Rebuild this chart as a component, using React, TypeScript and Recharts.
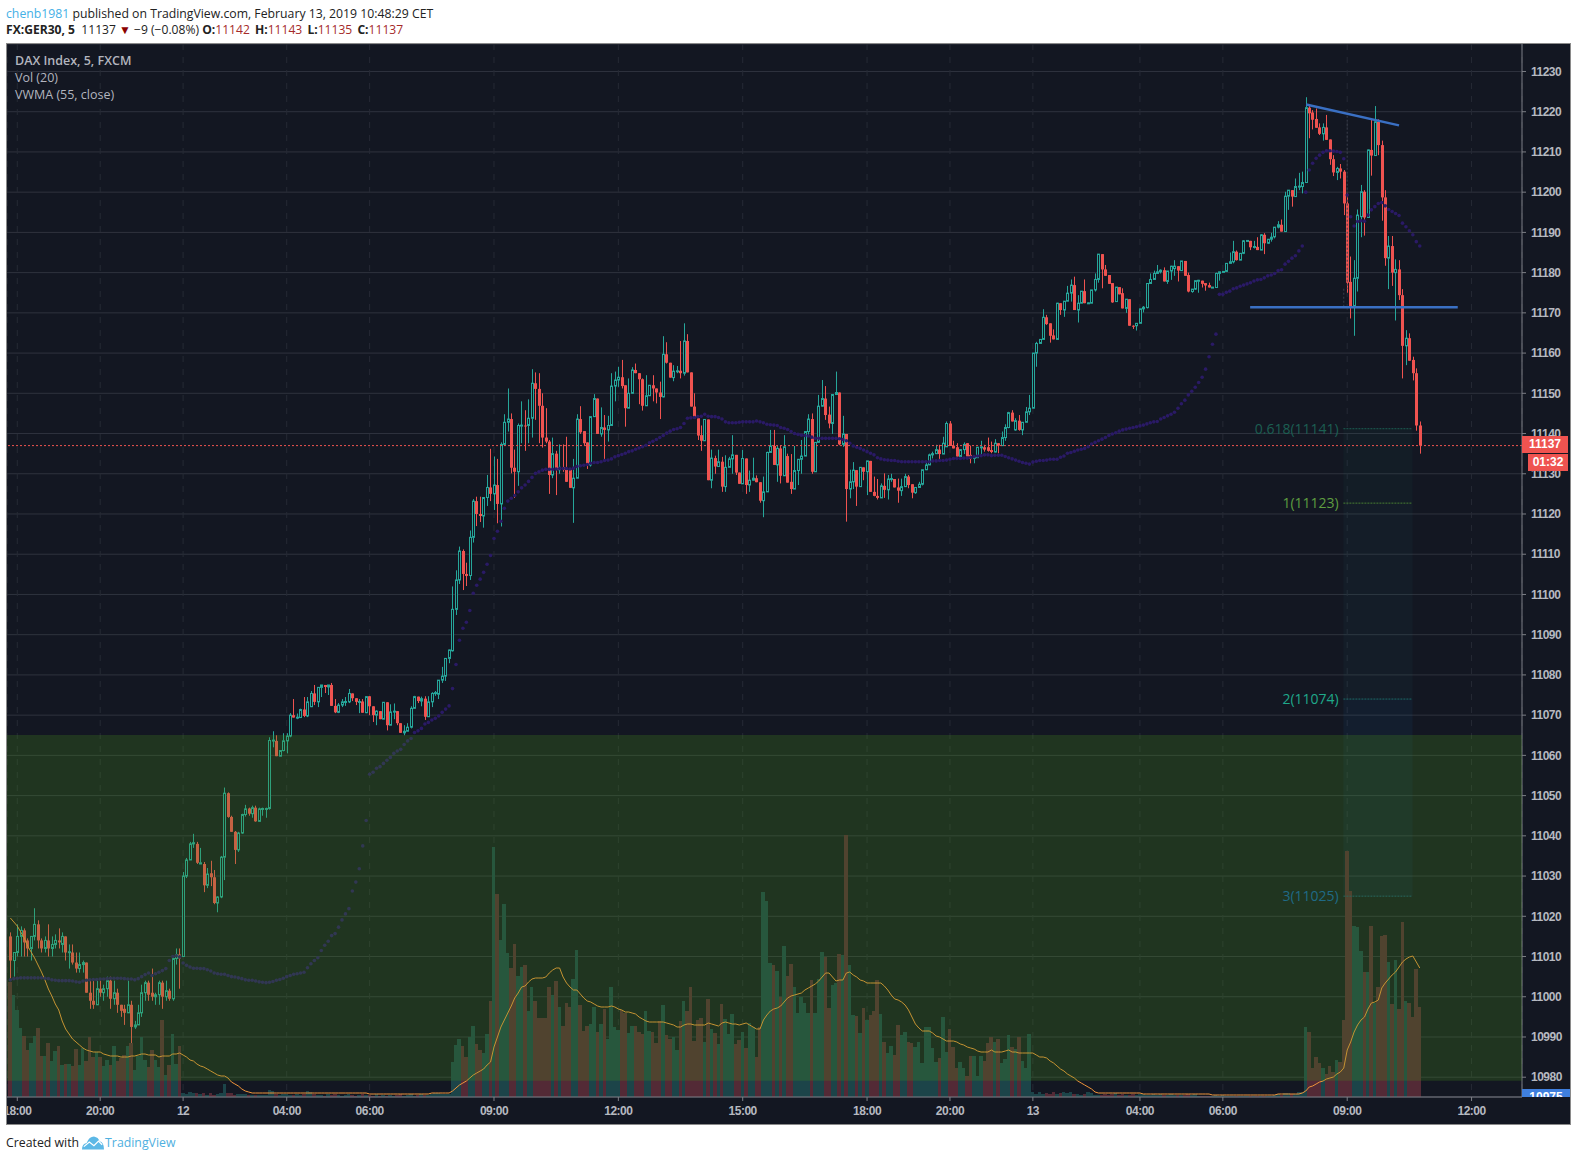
import {
  Bar,
  CartesianGrid,
  ComposedChart,
  Line,
  ReferenceArea,
  ReferenceDot,
  ReferenceLine,
  XAxis,
  YAxis,
} from "recharts";

// 5 minute bars
const opens = [
  11015,11009,11011,11015,11016.5,11014,11012,11015,11018,11014,
  11012,11014,11012,11013,11014,11013,11015,11011,11011,11008.5,
  11007,11008,11008.5,11001,10999,10998,11002,11001,11002,11004,
  10999.5,11001,10998,10997,10996,10998,10992.5,10993,10996,11001,
  11003.5,11001,11000,11000.5,11003.5,11000,11001.5,10999.5,11009.5,11010.5,
  11010,11030,11034,11038,11038,11033,11033,11027.7,11030.7,11029.7,
  11023.3,11024.8,11034.7,11050.6,11044.7,11041,11036.5,11040.7,11045.3,11046.8,
  11045.5,11047,11043.6,11046.7,11046.8,11046.8,11063.6,11063.6,11059.8,11061.2,
  11063.6,11064.8,11070,11069.4,11069.4,11071.4,11069.8,11072.1,11075.4,11073.3,
  11076.9,11077.5,11077,11077.5,11072.3,11070.7,11072.5,11073.3,11073.3,11075.4,
  11074.2,11073.3,11073.4,11070.6,11074.7,11072.2,11070,11071,11069,11073.2,
  11067.5,11070.8,11071,11068,11065.6,11066,11067,11071.7,11074.6,11073.5,
  11074.1,11069.6,11073.3,11075.4,11075.2,11078.7,11079.7,11084.1,11086,11096.3,
  11103.6,11110.8,11105.1,11104.7,11114.2,11123.2,11120,11119.5,11124.1,11126.6,
  11125,11127.2,11122.5,11137.3,11142.8,11143.6,11131.5,11130.5,11142,11142,
  11142,11143.8,11152.5,11151.1,11146.9,11139,11138,11129.7,11135,11131,
  11131.6,11131,11131,11126.5,11128.9,11143.6,11140.6,11137.8,11132.2,11144.2,
  11148.7,11139.9,11141.5,11140.9,11142,11151.8,11153.3,11154,11152,11146.3,
  11150,11155.8,11155,11153.5,11146.9,11149.4,11152,11151.2,11150.2,11149.1,
  11159.7,11157.6,11153.9,11155.5,11155.6,11155,11163,11155.2,11146.7,11143.8,
  11139.6,11138.2,11143.5,11128.4,11133.9,11131.8,11133,11126.8,11131.6,11133.7,
  11134.7,11130.3,11127.5,11133.8,11127.2,11128.4,11128.9,11127.9,11123.3,11125.5,
  11135.3,11136.9,11132.2,11136.3,11129.5,11134.4,11128,11126.2,11130.8,11133.6,
  11134.4,11140.5,11143.6,11130.5,11137.8,11146.8,11148.7,11144.7,11142.5,11149.7,
  11150.2,11137.3,11139.9,11126.2,11128,11130.9,11126.8,11131.6,11130.5,11133.2,
  11125.5,11124.5,11124,11127,11126,11128.7,11128.7,11126.6,11125.8,11126.8,
  11129.3,11127.4,11125.3,11126.6,11127.4,11131,11132.2,11134.7,11135,11136,
  11134.9,11136.7,11142.5,11137,11136.6,11134.3,11136,11137.6,11134.7,11134,
  11134,11136.6,11136.6,11136.6,11135.9,11135.4,11137.6,11137,11139,11141.5,
  11145.2,11140.9,11143.2,11140.9,11142.8,11145.4,11146.3,11160,11162.4,11163.4,
  11168.9,11167.4,11164.4,11163.4,11172.4,11170.7,11172.9,11174.9,11176.9,11170.7,
  11172.4,11175.4,11172.4,11172.4,11175.7,11178.3,11184.6,11180.8,11179.4,11177.4,
  11172.8,11176.4,11174.9,11171.1,11173.4,11166.8,11166.8,11167.4,11171,11171.3,
  11177.3,11178.3,11179.8,11180.2,11180.6,11177.8,11180.4,11181,11181.6,11180.5,
  11182.9,11179.4,11175.3,11175.9,11178,11178,11177.4,11176.9,11176.3,11176.3,
  11179.8,11180.2,11180.3,11182.3,11182.7,11185.2,11183.1,11184.8,11187.9,11187.9,
  11186.3,11186.4,11185.6,11189.4,11187.3,11188.3,11188.9,11191.3,11191.9,11190.2,
  11199,11200.5,11198.9,11201.4,11201.4,11202.4,11221,11219.8,11218.2,11216.1,
  11214.5,11216.1,11213.1,11208.2,11204.9,11205.9,11205.1,11197.2,11177.7,11171.7,
  11178.6,11193.9,11200.1,11193.7,11210.5,11209.1,11217.5,11211.7,11198.7,11183.6,
  11186.6,11180,11180.8,11174.4,11161.8,11163.7,11158.3,11155,11142,
];

const closes = [
  11009,11011,11015,11016.5,11013.5,11012,11015,11018,11014,11012,
  11014,11012,11013,11014,11013.5,11015,11011,11011.2,11008.5,11007,
  11008,11008.5,11001,10999,10998,11002,11001,11002,11004,10999.5,
  11001,10998,10996.5,10996,10998,10992.5,10993,10996,11001,11003.5,
  11000.5,11000,11000.5,11003.5,11000,11001.5,10999.5,11009.5,11010.5,11009.5,
  11030,11034,11038,11038.3,11033.3,11033.3,11027.7,11030.5,11029.7,11023.3,
  11024.8,11034.7,11050.6,11044.7,11041,11036.5,11040.7,11045.3,11046.7,11045.5,
  11047,11043.6,11046.7,11046.8,11046.8,11063.7,11063.8,11059.8,11061.2,11063.6,
  11064.8,11070,11069.4,11069.5,11071.4,11069.8,11073.3,11075.4,11073.3,11076.9,
  11077.5,11077,11077.5,11072.3,11070.7,11072.5,11073.3,11073.4,11075.4,11074.2,
  11073.3,11073.4,11070.6,11074.6,11072.2,11070,11071,11069,11073.2,11067.5,
  11070.8,11071,11068,11065.6,11066,11067,11071.7,11074.6,11073.5,11074.1,
  11069.6,11073.3,11075.4,11075.6,11078.7,11079.7,11084.1,11086.2,11096.3,11103.6,
  11110.8,11105.1,11104.6,11114.2,11123.2,11120,11119.5,11124.1,11126.6,11125,
  11127.2,11122.5,11137.3,11142.8,11143.6,11131.5,11130.5,11142,11142.1,11141.9,
  11143.8,11152.5,11151.1,11146.9,11139,11138,11129.7,11135,11131,11131.6,
  11131,11128,11126.5,11128.9,11143.6,11140.3,11137.6,11132.2,11144.2,11148.7,
  11139.9,11141.5,11140.9,11142,11151.8,11153.3,11154,11151.8,11146.3,11150,
  11155.8,11155,11153.5,11146.9,11149.4,11152,11151.2,11150.2,11149.1,11159.7,
  11157.6,11153.9,11155.5,11155.6,11155,11163,11155.2,11146.7,11143.8,11139.5,
  11138.2,11143.5,11128.4,11133.9,11131.8,11133,11126.8,11131.6,11133.7,11134.7,
  11130.3,11127.5,11133.8,11127.2,11128.4,11128.9,11127.9,11123.3,11125.5,11135.3,
  11136.9,11132.2,11136.3,11129.5,11136.7,11127.8,11126.2,11130.8,11133.6,11134.4,
  11140.5,11143.6,11130.5,11137.8,11146.8,11148.7,11144.6,11142.5,11149.7,11150.2,
  11137.3,11139.9,11126.2,11128,11130.9,11126.8,11131.6,11130.5,11133.2,11125.5,
  11124.5,11124,11127,11126,11128.7,11128.8,11126.6,11125.8,11126.8,11129.3,
  11127.2,11125.3,11126.6,11127.4,11131,11132.2,11134.7,11135,11136,11134.9,
  11137.6,11142.5,11136.9,11136.3,11134.3,11136,11137.3,11134.3,11133.8,11134.1,
  11136.6,11136.7,11136,11135.7,11135.4,11137.6,11137,11139,11141.5,11145.2,
  11143,11143.2,11140.9,11142.8,11145.4,11146.3,11160,11162.4,11163.4,11168.9,
  11167.2,11164.3,11163.4,11172.4,11170.7,11172.9,11174.9,11176.9,11170.7,11172.4,
  11175.4,11172.4,11172.5,11175.7,11178.3,11184.6,11180.8,11179.2,11177.2,11172.6,
  11176.4,11174.6,11171.1,11173.4,11166.8,11166.7,11167.4,11171,11171.4,11177.3,
  11178.3,11179.8,11180.2,11180.6,11177.8,11180.4,11181.6,11181.6,11180.5,11182.9,
  11179.2,11175.3,11175.9,11178,11178.1,11177.2,11176.8,11176.3,11176.4,11179.8,
  11180.2,11180.3,11182.3,11182.7,11185.2,11183.1,11184.8,11187.9,11188,11186.3,
  11186.5,11185.6,11189.4,11187.3,11188.3,11188.8,11191.3,11191.9,11190.2,11199,
  11200.5,11198.9,11201.4,11201.5,11202.4,11221,11219.6,11218,11216,11214.5,
  11216.1,11213,11208.2,11204.9,11205.9,11205.1,11197.2,11177.5,11171.7,11178.6,
  11194.3,11200.1,11193.7,11210.5,11209.1,11217.5,11211.7,11198.7,11183.6,11186.6,
  11180,11180.8,11174.4,11161.8,11163.7,11158.1,11155,11142,11137,
];

const highs = [
  11016,11011,11018,11017.5,11017,11014.5,11015,11022,11019,11014.5,
  11015,11018,11015,11015.5,11017,11016,11015,11013,11013,11011,
  11011,11009,11008.5,11004,11004,11004,11004,11003,11005,11005,
  11004,11002,10998,10998,11004,10999,10994,10998,11003,11004,
  11004,11007,11001,11004,11004,11004,11002,11010,11012,11012,
  11031,11034.5,11038.5,11040.5,11038.5,11037,11033.5,11032,11033.8,11031.5,
  11025,11035,11052,11050.8,11045,11041.2,11041,11045.5,11047.7,11047,
  11047.5,11047.5,11047,11047,11047,11064.5,11066,11065,11061.3,11065.5,
  11065.5,11070.5,11074,11070.4,11071.6,11074.5,11074.5,11076,11077.5,11077,
  11077.5,11077.5,11077.5,11078,11074,11073,11074,11074.5,11076.5,11075.4,
  11074.2,11074,11074,11074.7,11074.7,11072.2,11071.2,11071,11073.2,11073.2,
  11072.7,11072.9,11071,11068,11067.5,11068,11072.2,11074.8,11074.6,11074.6,
  11074.7,11074.7,11075.7,11076,11078.7,11082,11084.2,11086.3,11102,11106,
  11111.9,11111.2,11107.9,11115.9,11123.7,11124.3,11124.3,11124.2,11129.7,11136.2,
  11134.3,11133.7,11137.8,11144.8,11151.2,11145,11136,11142.5,11148,11145.8,
  11148.5,11156,11155.2,11155,11150,11146.3,11138.4,11139,11135.7,11137.3,
  11137.3,11139.2,11131,11133.7,11144.8,11146.8,11140.6,11137.8,11144.2,11149.8,
  11148.7,11146.5,11144.6,11144.4,11155,11155.4,11156.6,11158.3,11152,11153.7,
  11156.5,11157.4,11155,11153.7,11154.5,11152,11154.5,11151.2,11152.9,11164.2,
  11162.7,11157.6,11157,11156.8,11163,11167.4,11164.7,11155.2,11150,11143.8,
  11142,11143.5,11143.5,11136,11134.5,11136,11134.2,11134.6,11134.2,11139.6,
  11134.7,11130.3,11135.9,11133.8,11130.8,11134,11129.6,11127.9,11129.3,11135.5,
  11140.9,11140.9,11136.9,11137.1,11139.6,11135,11134.9,11136.9,11133.6,11138.4,
  11140.5,11144.8,11145,11137.8,11149.6,11153.3,11151.8,11146.7,11149.7,11155.4,
  11150.2,11144.4,11139.9,11131,11132.9,11130.9,11131.6,11131.6,11133.2,11133.2,
  11129.3,11128.7,11127.6,11130.1,11129.7,11130,11128.7,11128.8,11128.8,11130,
  11129.7,11127.4,11126.6,11128,11131,11133.2,11135,11135.5,11137.2,11137.2,
  11139.2,11143,11143.1,11138.2,11137.6,11136,11137.8,11137.6,11137,11134.1,
  11136.6,11138.2,11137.2,11139,11138,11138.6,11137.6,11140.5,11142.3,11145.4,
  11145.8,11143.8,11144.6,11142.8,11146.6,11149.6,11160,11162.8,11163.4,11170.9,
  11169.5,11167.4,11165.9,11172.5,11172.4,11172.9,11176.7,11178.3,11179,11174.4,
  11175.4,11178.3,11172.6,11175.7,11179.8,11184.6,11184.6,11181.9,11179.4,11177.4,
  11176.4,11176.4,11176.1,11173.4,11173.4,11166.9,11167.4,11171,11171.7,11177.3,
  11179.8,11180.5,11181.9,11180.8,11181.3,11180.4,11181.7,11183.1,11181.6,11182.9,
  11182.9,11180,11175.9,11178,11178.2,11178,11177.4,11177.5,11176.4,11180,
  11180.2,11180.4,11182.3,11185,11187.9,11185.5,11184.8,11188.1,11188.1,11187.9,
  11187.9,11188.8,11189.6,11189.8,11188.3,11189.9,11191.3,11192.8,11193.2,11200.1,
  11200.5,11200.5,11203.4,11204.8,11205.1,11223.6,11221.7,11220.4,11220.8,11217.1,
  11217.1,11219.2,11213.1,11209.2,11206.3,11207,11205.5,11199.7,11184,11183.1,
  11195.7,11201.8,11200.5,11210.6,11218,11221.4,11218.1,11212.8,11200.5,11189.1,
  11189.1,11183.3,11183.1,11175.9,11165.7,11164.9,11159.1,11156.2,11143,
];

const lows = [
  11004,11005,11010,11010,11010,11010,11009,11014,11012,11011,
  11011,11010,11010,11012,11012,11011,11009,11007,11008,11006,
  11006,11006,11001,10997,10997,10998,11000,10999,11000,10997,
  10998,10996,10995,10993,10996,10988.5,10992,10993,10995,10999,
  10999,10999,10998,10998,10997,10999,10999,10999,11008,11002,
  11010,11029.5,11034,11037,11033,11033,11026,11027,11027.5,11023,
  11021,11024.5,11029,11044.5,11041,11033,11036,11040.5,11044.8,11045,
  11044.5,11043.5,11043.5,11045,11044.5,11046.5,11062,11059.8,11059.8,11061,
  11060.5,11064.5,11069.4,11069,11069.3,11069.5,11069.5,11072,11072.5,11072,
  11074.5,11075.5,11075,11072.3,11070.5,11070.5,11072,11072.3,11073,11073.5,
  11072.5,11070.5,11070.6,11070.5,11070,11068.3,11067.5,11069,11069,11066.2,
  11067.5,11069,11067.5,11065.6,11065,11066,11066.7,11071.7,11073,11072.2,
  11068.8,11069.6,11072,11074.8,11074,11078,11078.5,11082.9,11085.8,11094.9,
  11102.6,11101.1,11102.1,11103.6,11112.9,11117,11118,11116.6,11122,11123.2,
  11121,11117.7,11116.9,11137,11140.5,11130.1,11124,11127,11137.6,11135.7,
  11137.6,11139,11143.4,11137.6,11136.5,11137.6,11125,11128.9,11124.7,11130,
  11130.5,11128,11126.5,11117.8,11128.9,11139.9,11137.1,11131.2,11131.8,11144.2,
  11139.9,11139.2,11133,11138,11142,11148,11151.6,11151.2,11141.7,11146.3,
  11150,11155,11147.3,11145.7,11146.9,11149.4,11148,11147.5,11143.6,11149,
  11157.4,11153.9,11153,11155,11153.7,11154.4,11155.2,11146.7,11143.8,11138.4,
  11135.7,11138.2,11128.4,11126.4,11130,11131.8,11125.5,11125.5,11131.6,11130,
  11129.7,11127.5,11127.5,11125,11125.5,11128.3,11127.9,11122.8,11119.2,11125.5,
  11135.2,11132.2,11128,11127.6,11129.5,11127.8,11125,11126.2,11127.2,11130,
  11134.4,11139.2,11130,11130.5,11137.8,11146.7,11143.4,11141.3,11139.9,11149.7,
  11137.1,11136.7,11118.1,11123.9,11126.2,11122,11126.8,11128.4,11124.7,11125.5,
  11124.4,11123.6,11124,11124,11123.6,11128,11126.6,11122.8,11124.5,11126.8,
  11126.4,11123.9,11125,11126.6,11127.1,11130.9,11132.2,11133.8,11134.9,11133.4,
  11134.9,11136.7,11136.9,11136.3,11134.3,11134.3,11134.9,11134.3,11132.6,11132.6,
  11134,11134.7,11135.5,11135.5,11135.1,11135.3,11135.1,11137,11138.2,11141.3,
  11143,11140.7,11140.7,11139.6,11142.8,11144.6,11146.3,11156.6,11162.3,11163.4,
  11167,11162.6,11163.4,11163.4,11169.5,11169,11172.9,11172.8,11170.7,11167.6,
  11172.4,11172.4,11172.2,11172.4,11175.3,11177.5,11176.1,11179.2,11177.2,11172.5,
  11172.8,11174.6,11171.1,11170,11166.8,11166,11165.6,11167.4,11170.1,11171.1,
  11177.3,11178.3,11179.8,11179.8,11177.8,11177.2,11178.2,11179.2,11177.8,11180.5,
  11179.2,11175.1,11175,11175.7,11175,11176.3,11175.5,11176.3,11176.2,11176.2,
  11178,11180.2,11180.2,11182.3,11182.3,11183,11183.1,11184.6,11187.8,11185.6,
  11186,11185.6,11185.6,11184.6,11187.1,11187.7,11188.5,11191,11190.2,11190.2,
  11195.6,11196.4,11198.9,11200.5,11199.7,11202.4,11213.4,11215.6,11216,11214.2,
  11212.8,11213,11206.8,11204,11203,11203.4,11194.3,11175,11168.6,11164.3,
  11175.3,11188.8,11189.2,11193.7,11204.1,11209.1,11209.2,11192.9,11181.7,11175.9,
  11176.7,11168.1,11173.2,11153.7,11157,11158.1,11153.2,11140.7,11135,
];

// volume, in the chart's pixel units (the original axis is hidden)
const volumes = [
  115,102,87,69,61,47,54,61,69,41,
  41,54,36,46,51,32,33,33,31,48,
  32,49,36,60,40,45,40,31,37,32,
  51,36,39,42,51,54,27,41,60,37,
  30,47,37,30,77,22,32,63,33,51,
  4,3,5,4,4,3,4,2,4,2,
  3,4,13,4,4,2,3,3,3,2,
  2,2,2,2,2,7,6,3,2,3,
  3,2,2,3,2,3,6,5,3,2,
  2,1,3,2,3,2,1,2,3,2,
  1,2,3,2,2,1,3,1,2,1,
  2,1,2,3,1,2,3,1,2,3,
  2,2,3,4,4,3,3,3,35,52,
  58,51,40,60,71,53,47,44,63,96,
  250,203,157,193,144,129,153,121,130,132,
  86,110,96,79,79,79,110,102,116,90,
  71,94,90,118,147,92,66,71,73,90,
  65,73,88,58,110,70,67,87,84,64,
  71,71,65,63,86,66,65,54,76,92,
  62,58,60,47,76,96,86,110,56,77,
  79,55,98,68,64,53,93,78,63,83,
  53,57,65,49,74,70,40,70,205,196,
  134,132,126,100,151,121,133,110,84,100,
  94,84,117,84,118,145,140,89,112,114,
  143,142,262,132,82,81,64,89,77,82,
  86,117,83,55,44,51,42,72,62,65,
  55,54,50,55,34,70,70,49,35,39,
  80,45,68,50,29,35,29,21,41,41,
  21,41,36,54,60,55,58,34,38,62,
  50,48,60,36,29,63,5,3,5,3,
  4,3,5,3,4,5,4,5,3,3,
  2,3,5,4,2,2,2,3,2,3,
  4,2,3,2,2,3,2,3,3,2,
  2,3,2,3,2,2,3,2,2,2,
  2,3,2,3,1,1,1,1,1,2,
  1,2,1,1,1,1,1,1,1,1,
  1,1,1,1,1,1,2,3,2,4,
  4,3,3,5,5,70,65,29,40,34,
  29,23,31,25,37,35,77,246,206,171,
  170,146,125,125,171,94,110,161,162,135,
  93,137,88,175,96,94,80,128,90,
];

const volumeMa = [
  179,175,171,165,159,151,145,139,132,125,
  117,108,101,93,87,76,68,63,58,55,
  52,49,47,46,45,45,45,43,42,41,
  41,41,40,40,40,41,41,42,43,43,
  42,42,42,40,41,41,41,43,43,44,
  42,40,37,36,33,31,30,28,26,24,
  22,21,21,19,15,13,11,8,6,5,
  4,4,4,4,4,4,4,4,4,4,
  4,4,4,4,4,4,4,4,4,4,
  4,4,4,4,4,4,4,4,4,4,
  4,4,4,4,3,3,3,3,3,3,
  3,3,3,3,3,3,3,3,3,3,
  3,3,4,4,4,4,4,4,6,9,
  12,14,16,19,22,24,26,28,32,35,
  50,60,70,77,84,91,99,104,110,111,
  115,118,119,119,119,120,124,127,129,129,
  120,114,110,107,107,103,99,96,95,93,
  91,90,90,90,91,90,88,87,85,85,
  84,83,80,78,76,75,75,75,75,75,
  74,73,72,70,70,72,73,73,72,72,
  72,72,74,73,72,71,74,75,74,73,
  73,72,73,74,72,70,68,68,77,82,
  86,88,89,91,95,99,101,102,103,104,
  107,109,111,113,116,120,124,124,120,116,
  117,117,124,125,122,120,117,116,114,114,
  114,114,114,111,107,102,98,97,95,92,
  87,80,73,69,66,66,66,64,61,60,
  58,56,56,56,55,53,52,50,49,48,
  46,45,45,45,47,45,45,45,46,47,
  45,45,44,44,44,44,44,42,40,40,
  39,36,34,31,28,26,23,21,19,16,
  14,12,10,8,5,4,4,4,4,4,
  4,4,4,4,4,4,4,4,3,3,
  3,3,3,3,3,3,3,3,3,3,
  3,3,3,3,3,3,3,3,2,2,
  2,2,2,2,2,2,2,2,2,2,
  2,2,2,2,2,2,2,3,3,3,
  3,3,3,3,4,6,10,11,13,15,
  16,18,19,20,23,25,29,47,55,65,
  72,77,80,88,94,95,97,109,114,118,
  122,125,130,135,138,140,141,135,129,
];

const vwma = [
  11004.2,11004.5,11004.6,11004.7,11004.7,11004.7,11004.7,11004.7,11004.7,11004.7,
  11004.6,11004.5,11004.2,11004.1,11004,11004,11004,11004,11003.9,11003.7,
  11003.6,11003.9,11004.1,11004.2,11004.3,11004.3,11004.4,11004.4,11004.5,11004.6,
  11004.6,11004.6,11004.6,11004.5,11004.4,11004.4,11004.2,11004.5,11005,11005.5,
  11005.9,11005.3,11005.7,11006.1,11006.5,11007,11009,11010,11010.2,11009.9,
  11008.4,11007.8,11007.4,11007.1,11007.1,11007,11007,11006.7,11006.4,11005.9,
  11005.7,11005.6,11005.6,11005.3,11005,11004.9,11004.7,11004.5,11004.2,11004.1,
  11004.1,11003.9,11003.7,11003.6,11003.5,11003.6,11003.8,11004.1,11004.3,11004.6,
  11005,11005.3,11005.6,11005.7,11005.9,11006.1,11007.2,11008.2,11009,11009.7,
  11011.5,11012.8,11013.8,11015.2,11015.7,11017.3,11019.1,11020.6,11021.9,11026.3,
  11028.5,11031.8,11037.5,11043.8,11055.3,11055.8,11056.8,11057.2,11058,11058.8,
  11059.5,11060.5,11061.1,11061.5,11062.7,11063.6,11064.2,11065.7,11066.1,11066.7,
  11067.8,11068.2,11068.8,11069.2,11069.8,11070.7,11071.5,11072.3,11076.6,11082.6,
  11088.6,11091.6,11093.1,11096,11100.3,11102.3,11103.8,11105.5,11107.5,11109.7,
  11113.9,11115.7,11118.2,11121.4,11123.2,11123.9,11124.6,11125.5,11126.5,11127.2,
  11128.1,11129.1,11130.1,11130.5,11130.9,11131.1,11131.1,11131.1,11131.2,11131.3,
  11131.3,11131.3,11131.2,11131.4,11131.8,11132,11132.1,11132.3,11132.6,11132.8,
  11132.8,11133,11133.3,11133.4,11133.7,11134.2,11134.5,11134.8,11135.1,11135.5,
  11135.7,11136.1,11136.4,11136.7,11137.1,11137.7,11138.1,11138.5,11139,11139.5,
  11140.1,11140.6,11141,11141.2,11141.5,11142.5,11143.8,11143.9,11144,11144.2,
  11144.3,11144.8,11144.3,11144.2,11144.2,11144,11143.6,11142.9,11142.7,11142.7,
  11142.7,11142.8,11142.9,11142.9,11142.9,11142.9,11143.1,11142.9,11142.7,11142.3,
  11142.2,11142.1,11142,11141.5,11141.3,11141,11140.5,11140,11139.8,11139.6,
  11139.5,11139.4,11139.1,11138.8,11138.8,11138.8,11138.8,11138.8,11138.8,11138.8,
  11138.7,11138.5,11138.2,11137.6,11136.9,11136.6,11136.3,11135.9,11135.5,11135.1,
  11134.7,11134,11133.7,11133.5,11133.4,11133.3,11133.3,11133.1,11133,11133,
  11133,11133,11133,11133,11133,11133,11133,11133.2,11133.2,11133.3,
  11133.3,11133.4,11133.6,11133.8,11133.8,11133.8,11133.9,11133.9,11134.1,11134.3,
  11134.4,11134.5,11134.7,11134.7,11134.5,11134.6,11134.6,11134.6,11134.3,11134,
  11133.7,11133.4,11133.1,11132.8,11132.6,11132.4,11132.9,11133.1,11133.3,11133.3,
  11133.4,11133.6,11133.6,11133.6,11134.1,11134.4,11135.1,11135.3,11135.6,11135.9,
  11136.1,11136.3,11136.7,11137.4,11137.8,11138.2,11138.6,11139,11139.5,11139.9,
  11140.2,11140.6,11140.9,11141.1,11141.3,11141.5,11141.7,11141.9,11142.1,11142.4,
  11142.7,11142.9,11143,11143.6,11144,11144.4,11144.8,11145.3,11146.3,11147.4,
  11148.3,11149.6,11150.5,11151.5,11152.7,11154,11156,11159.1,11162.2,11164.7,
  11174.6,11174.6,11175.1,11175.4,11176,11176.2,11176.6,11176.9,11177.2,11177.5,
  11177.9,11178.2,11178.3,11178.7,11179.2,11179.4,11179.8,11180.5,11180.7,11182.1,
  11182.8,11183.6,11184.2,11185.4,11186.6,11200,11205.5,11207.2,11208.4,11209.2,
  11209.9,11210.3,11210.3,11210.2,11210.1,11209.9,11208.3,11199.3,11193.9,11191.6,
  11192.7,11192.9,11192.8,11194.3,11195.6,11196.4,11197.2,11197.4,11196.6,11195.7,
  11195.2,11194.7,11194.2,11192.3,11191.4,11190.4,11189.4,11187.7,11186.6,
];

const priceTicks = [
  10980,10990,11000,11010,11020,11030,11040,11050,11060,11070,11080,11090,11100,
  11110,11120,11130,11140,11150,11160,11170,11180,11190,11200,11210,11220,11230,
];
const timeTicks = [2,26,50,80,104,140,176,212,248,272,296,327,351,387,423];
const timeLabels = [
  "18:00","20:00","12","04:00","06:00","09:00","12:00","15:00","18:00","20:00","13","04:00","06:00","09:00","12:00",
];

const fibLevels = [
  { name: "0.618(11141)", price: 11141.2, color: "#1c5f52", line: "#1c5f52" },
  { name: "1(11123)", price: 11122.7, color: "#5f9e40", line: "#4a7f34" },
  { name: "2(11074)", price: 11074, color: "#1fa98a", line: "#1c6b66" },
  { name: "3(11025)", price: 11025, color: "#1f6a86", line: "#1f5a72" },
];

const data = opens.map((open, i) => ({
  i,
  open,
  close: closes[i],
  high: highs[i],
  low: lows[i],
  volume: volumes[i],
  volumeMa: volumeMa[i],
  vwma: vwma[i],
  range: [lows[i], highs[i]],
}));

const BG = "#131722";
const UP = "#26a69a";
const DOWN = "#ef5350";
const AXIS = "#7d7f86";
const BAR_STEP = 3.454;
const xDomain = [-0.98, 437.6];
const sans = '"Open Sans", "Noto Sans", sans-serif';
const axisFont = '"Liberation Sans", Arial, sans-serif';

const Candle = (props: any) => {
  const { x, y, width, height, payload } = props;
  const { open, close, high, low } = payload;
  const perUnit = Math.abs(height) / Math.max(high - low, 0.01);
  const top = Math.min(y, y + height);
  const toY = (p: number) => top + (high - p) * perUnit;
  const cx = Math.round(x + width / 2) + 0.5;
  const up = close >= open;
  const color = up ? UP : DOWN;
  const bodyTop = toY(Math.max(open, close));
  const bodyH = Math.max(Math.abs(toY(open) - toY(close)), 1);
  return (
    <g>
      <line x1={cx} x2={cx} y1={top} y2={top + Math.abs(height)} stroke={color} strokeWidth={1} />
      {up ? (
        <rect x={cx - 1} y={bodyTop} width={2} height={bodyH} fill={BG} stroke={color} strokeWidth={1} />
      ) : (
        <rect x={cx - 1.5} y={bodyTop} width={3} height={bodyH} fill={color} />
      )}
    </g>
  );
};

const VolumeBar = (props: any) => {
  const { x, y, width, height, payload } = props;
  const up = payload.close >= payload.open;
  const center = x + width / 2;
  const left = Math.round(center - BAR_STEP / 2);
  const right = Math.round(center + BAR_STEP / 2);
  return (
    <rect x={left} y={y} width={right - left} height={height} fill={up ? "#1c4449" : "#532a36"} shapeRendering="crispEdges" />
  );
};

const tickStyle = { fill: "#b6b9c0", fontSize: 12, fontFamily: axisFont, fontWeight: 700, letterSpacing: -0.5 };
const labelGap = { marginLeft: 2 };

export default function App() {
  return (
    <div style={{ position: "fixed", left: 0, top: 0, width: 1577, height: 1161, background: "#fff", overflow: "hidden" }}>
      <div style={{ position: "absolute", left: 6, top: 5, fontFamily: sans, fontSize: 12.25, color: "#222", whiteSpace: "nowrap" }}>
        <span style={{ color: "#45b0e6" }}>chenb1981</span> published on TradingView.com, February 13, 2019 10:48:29 CET
      </div>
      <div style={{ position: "absolute", left: 6, top: 21, height: 17, lineHeight: "17px", fontFamily: sans, fontSize: 12.1, color: "#222", whiteSpace: "nowrap" }}>
        <b>FX:GER30, 5</b>&nbsp; 11137 <span style={{ color: "#8b0000", fontSize: 12 }}>▼</span> −9 (−0.08%) <b>O:</b>
        <span style={{ color: "#a52a2a" }}>11142</span> <b style={labelGap}>H:</b>
        <span style={{ color: "#a52a2a" }}>11143</span> <b style={labelGap}>L:</b>
        <span style={{ color: "#a52a2a" }}>11135</span> <b style={labelGap}>C:</b>
        <span style={{ color: "#a52a2a" }}>11137</span>
      </div>

      <div style={{ position: "absolute", left: 7, top: 44, width: 1563, height: 1080, background: BG, outline: "1px solid #8a8a8a", overflow: "hidden" }}>
        <ComposedChart width={1563} height={1080} data={data} margin={{ top: 0, right: 0, bottom: 0, left: 0 }}>
          <CartesianGrid xAxisId="bars" yAxisId="price" vertical={false} stroke="#2f333e" />
          <CartesianGrid xAxisId="bars" yAxisId="price" horizontal={false} stroke="#262a35" strokeDasharray="6 7" />
          <XAxis
            xAxisId="bars"
            dataKey="i"
            type="number"
            domain={xDomain}
            allowDataOverflow
            ticks={timeTicks}
            interval={0}
            tickFormatter={(v: number) => timeLabels[timeTicks.indexOf(v)]}
            height={27}
            stroke={AXIS}
            tickLine={{ stroke: AXIS }}
            tickSize={4}
            tickMargin={5}
            tick={tickStyle}
          />
          <XAxis xAxisId="volume" dataKey="i" type="number" domain={xDomain} allowDataOverflow hide />
          <YAxis
            yAxisId="price"
            orientation="right"
            domain={[10975.08, 11236.83]}
            allowDataOverflow
            ticks={priceTicks}
            interval={0}
            width={48}
            stroke={AXIS}
            tickLine={{ stroke: AXIS }}
            tickSize={4}
            tickMargin={5}
            tick={tickStyle}
          />
          <YAxis yAxisId="volume" domain={[0, 1053]} allowDataOverflow hide />

          <Bar
            xAxisId="volume"
            yAxisId="volume"
            dataKey="volume"
            barSize={3}
            shape={<VolumeBar />}
            isAnimationActive={false}
          />
          <Line
            xAxisId="volume"
            yAxisId="volume"
            dataKey="volumeMa"
            stroke="#f0953a"
            strokeWidth={1}
            dot={false}
            isAnimationActive={false}
          />
          <Line
            xAxisId="bars"
            yAxisId="price"
            dataKey="vwma"
            stroke="none"
            dot={{ r: 1.8, fill: "#2a1a66", stroke: "none" }}
            isAnimationActive={false}
          />
          <Bar
            xAxisId="bars"
            yAxisId="price"
            dataKey="range"
            barSize={3}
            shape={<Candle />}
            isAnimationActive={false}
          />

          <ReferenceLine xAxisId="bars" yAxisId="price" y={11137} stroke={DOWN} strokeDasharray="2 2" />

          <ReferenceArea xAxisId="bars" yAxisId="price" x1={385.9} x2={405.9} y1={11141.2} y2={11122.7} fill="#26a69a" fillOpacity={0.04} stroke="none" />
          <ReferenceArea xAxisId="bars" yAxisId="price" x1={385.9} x2={405.9} y1={11122.7} y2={11074} fill="#26a69a" fillOpacity={0.05} stroke="none" />
          <ReferenceArea xAxisId="bars" yAxisId="price" x1={385.9} x2={405.9} y1={11074} y2={11025} fill="#2196f3" fillOpacity={0.06} stroke="none" />
          {fibLevels.map((f) => (
            <ReferenceLine
              key={f.name}
              xAxisId="bars"
              yAxisId="price"
              segment={[{ x: 385.9, y: f.price }, { x: 405.8, y: f.price }]}
              stroke={f.line}
              strokeDasharray="2 1"
            />
          ))}
          {fibLevels.map((f) => (
            <ReferenceDot
              key={f.name + "-label"}
              xAxisId="bars"
              yAxisId="price"
              x={386}
              y={f.price}
              r={0}
              stroke="none"
              label={{ value: f.name, position: "left", fill: f.color, fontSize: 14, fontFamily: sans }}
            />
          ))}

          <ReferenceLine xAxisId="bars" yAxisId="price" segment={[{ x: 387, y: 11219 }, { x: 387, y: 11176 }]} stroke="#3a3f4b" strokeDasharray="2 2" />
          <ReferenceLine xAxisId="bars" yAxisId="price" segment={[{ x: 386, y: 11176 }, { x: 386, y: 11171 }]} stroke="#3a3f4b" strokeDasharray="2 2" />
          <ReferenceLine xAxisId="bars" yAxisId="price" segment={[{ x: 375.1, y: 11221.8 }, { x: 402, y: 11216.6 }]} stroke="#3a70c4" strokeWidth={2.4} />
          <ReferenceLine xAxisId="bars" yAxisId="price" segment={[{ x: 358.9, y: 11171.4 }, { x: 419, y: 11171.4 }]} stroke="#3a70c4" strokeWidth={2.4} />

          <ReferenceArea
            xAxisId="bars"
            yAxisId="price"
            y1={11065.07}
            y2={10979.1}
            fill="#478f1a"
            fillOpacity={0.25}
            stroke="none"
            zIndex={900}
          />
        </ComposedChart>

        <div style={{ position: "absolute", left: 8, top: 8, fontFamily: sans, fontSize: 12.5, color: "#b2b5be", lineHeight: "17px", whiteSpace: "nowrap" }}>
          <div style={{ fontWeight: 600 }}>DAX Index, 5, FXCM</div>
          <div>Vol (20)</div>
          <div>VWMA (55, close)</div>
        </div>

        <div style={{ position: "absolute", left: 1515, top: 392, width: 46, height: 17, background: DOWN, color: "#fff", fontFamily: axisFont, fontWeight: 700, fontSize: 12, lineHeight: "17px", textAlign: "center" }}>
          11137
        </div>
        <div style={{ position: "absolute", left: 1521, top: 410, width: 40, height: 17, background: DOWN, color: "#fff", fontFamily: axisFont, fontWeight: 700, fontSize: 12, lineHeight: "17px", textAlign: "center" }}>
          01:32
        </div>
        <div style={{ position: "absolute", left: 1515, top: 1045, width: 48, height: 8, background: "#3f7fde", overflow: "hidden", color: "#fff", fontFamily: axisFont, fontWeight: 700, fontSize: 12, lineHeight: "17px", textAlign: "center" }}>
          10975
        </div>
      </div>

      <div style={{ position: "absolute", left: 6, top: 1134, fontFamily: sans, fontSize: 12.3, color: "#222", whiteSpace: "nowrap", display: "flex", alignItems: "center" }}>
        Created with
        <svg width="22" height="15" viewBox="0 0 24 15" style={{ marginLeft: 3 }}>
          <path d="M0 15 Q0 9 5 8 Q8 1 13 1 Q18 2 19 6 Q24 7 24 15 Z" fill="#5cb8e6" />
          <path d="M2 12 L8 7 L13 11 L18 6 L22 10" fill="none" stroke="#fff" strokeWidth={1.4} />
        </svg>
        <span style={{ color: "#4fb0e0", marginLeft: 1 }}>TradingView</span>
      </div>
    </div>
  );
}
